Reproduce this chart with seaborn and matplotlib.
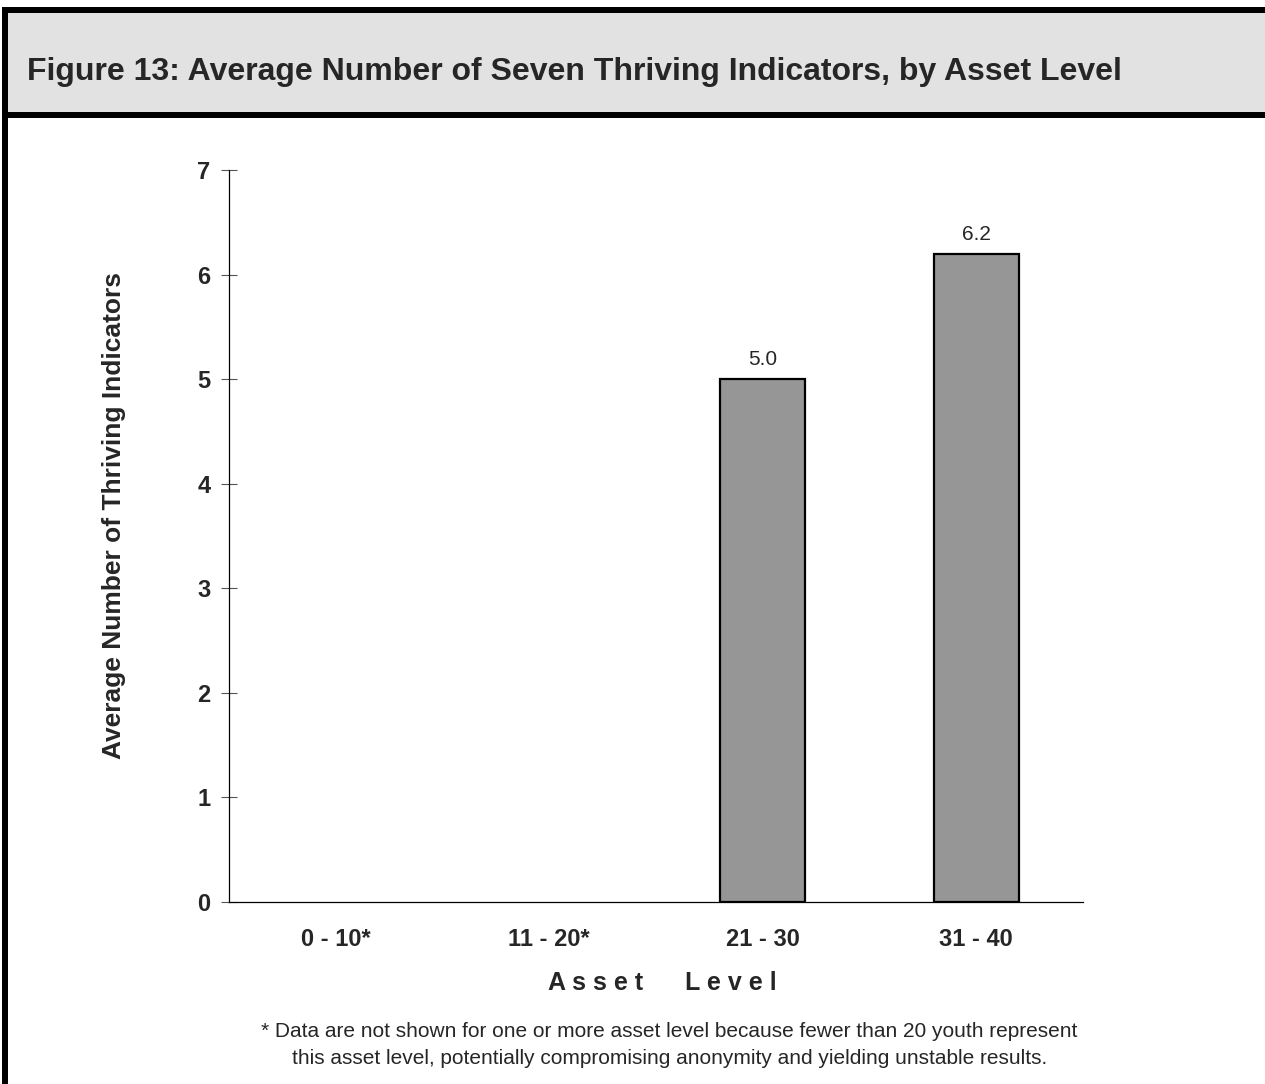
import matplotlib
matplotlib.use("Agg")
import matplotlib.pyplot as plt
from matplotlib.patches import Rectangle
import numpy as np
import pandas as pd
import seaborn as sns

# chart data
asset_levels = ["0 - 10*", "11 - 20*", "21 - 30", "31 - 40"]
avg_indicators = [np.nan, np.nan, 5.0, 6.2]
y_ticks = [0, 1, 2, 3, 4, 5, 6, 7]

title = "Figure 13: Average Number of Seven Thriving Indicators, by Asset Level"
footnote_1 = "* Data are not shown for one or more asset level because fewer than 20 youth represent"
footnote_2 = "this asset level, potentially compromising anonymity and yielding unstable results."

sns.set_style("white")
plt.rcParams['font.family'] = ['Liberation Sans', 'DejaVu Sans']

W, H = 1265, 1084
fig = plt.figure(figsize=(W / 100, H / 100), dpi=100)

# frame: header band and thick borders (pixel coords -> figure fraction)
def px_rect(x0, y0, x1, y1, color):
    r = Rectangle((x0 / W, 1 - y1 / H), (x1 - x0) / W, (y1 - y0) / H,
                  transform=fig.transFigure, facecolor=color, edgecolor='none', zorder=0)
    fig.add_artist(r)

px_rect(2, 12, W, 112, '#e2e2e2')
px_rect(2, 7, W, 12.5, 'black')
px_rect(2, 112, W, 118, 'black')
px_rect(2, 7, 7.5, H, 'black')

fig.text(27 / W, 1 - 80 / H, title, fontsize=23, fontweight='bold',
         ha='left', va='baseline')

# main axes
ax = fig.add_axes([229 / W, 1 - 902 / H, (1083 - 229) / W, (902 - 170) / H])
df = pd.DataFrame({"level": asset_levels, "value": avg_indicators})
sns.barplot(data=df, x="level", y="value", order=asset_levels, ax=ax,
            color="#969696", saturation=1, width=0.4,
            edgecolor="black", linewidth=1.6)

for cont in ax.containers:
    ax.bar_label(cont, fmt="%.1f", padding=7, fontsize=15)

ax.set_xlim(-0.5, 3.5)
ax.set_ylim(0, 7)
ax.set_yticks(y_ticks)
ax.set_yticklabels([str(t) for t in y_ticks], fontsize=17, fontweight='bold')
ax.set_xticks(range(len(asset_levels)))
ax.set_xticklabels(asset_levels, fontsize=17, fontweight='bold')
ax.tick_params(axis='y', direction='inout', length=11, width=0.8,
               color='#555555', pad=8, left=True)
ax.tick_params(axis='x', length=0, pad=19)
ax.set_xlabel("")
ax.set_ylabel("")

for side in ['top', 'right']:
    ax.spines[side].set_visible(False)
for side in ['left', 'bottom']:
    ax.spines[side].set_color('black')
    ax.spines[side].set_linewidth(0.9)

fig.text(114 / W, 1 - 515 / H, "Average Number of Thriving Indicators",
         rotation=90, fontsize=19, fontweight='bold', ha='center', va='center')
fig.text(662 / W, 1 - 990 / H, "A s s e t      L e v e l",
         fontsize=18, fontweight='bold', ha='center', va='baseline')

fig.text(669 / W, 1 - 1037 / H, footnote_1, fontsize=15, ha='center', va='baseline')
fig.text(670 / W, 1 - 1064 / H, footnote_2, fontsize=15, ha='center', va='baseline')

fig.savefig("out.png", dpi=100, facecolor='white')
